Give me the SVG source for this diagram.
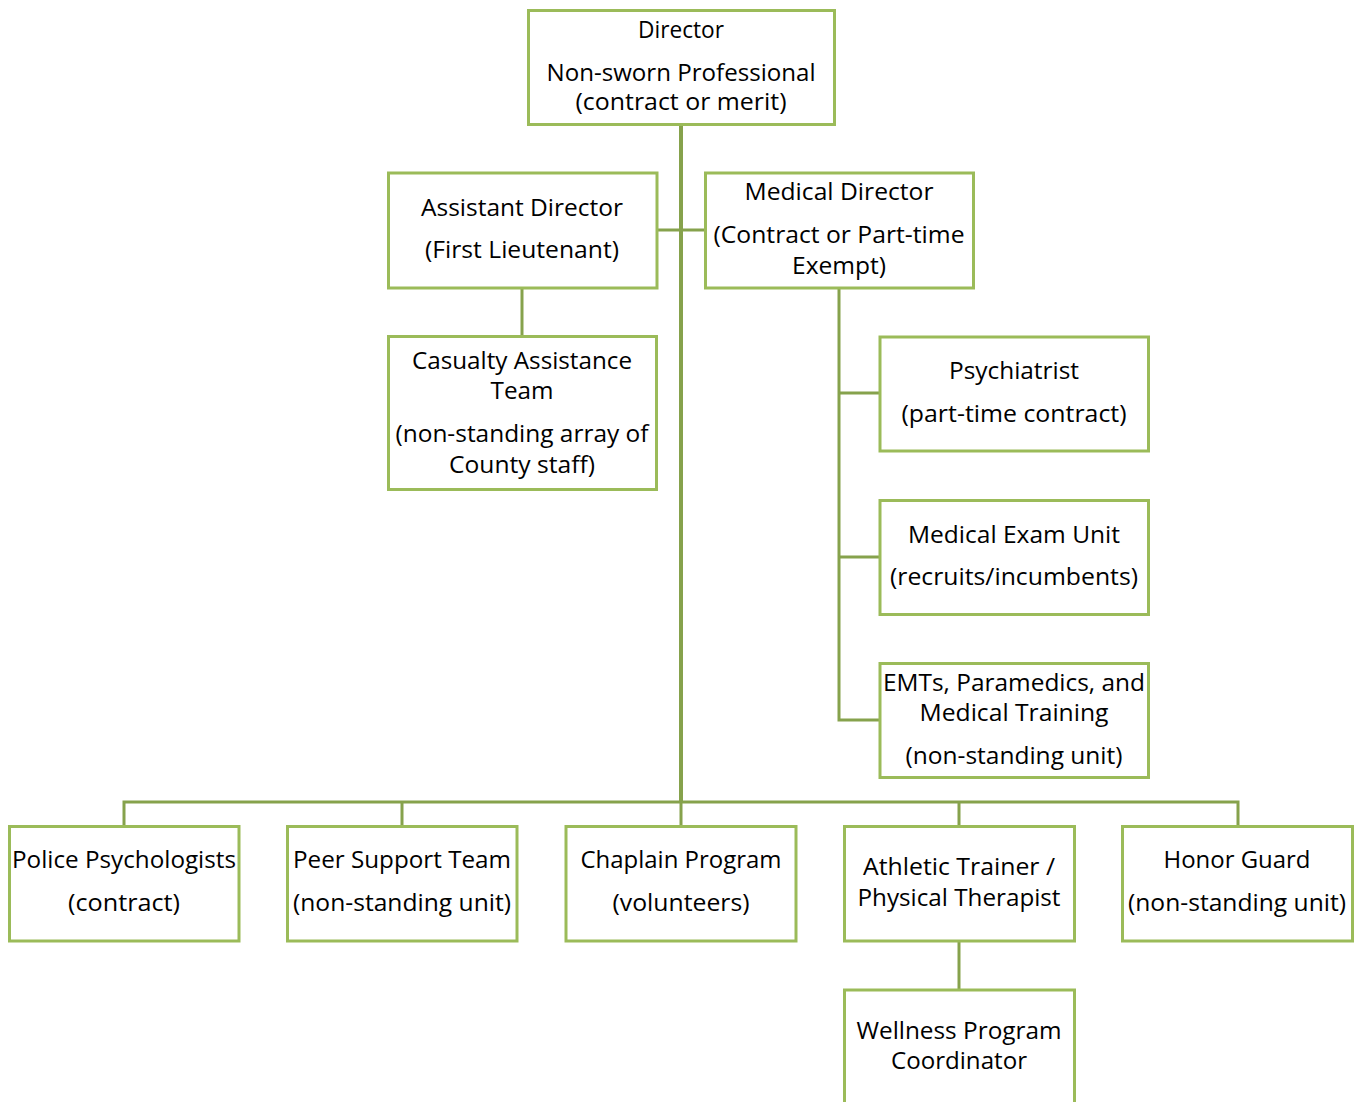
<svg xmlns="http://www.w3.org/2000/svg" width="1356" height="1102" viewBox="0 0 1356 1102">
  <style>
    .box { fill: #ffffff; stroke: #9bbb59; stroke-width: 3; }
    .link { fill: none; stroke: #86a24c; stroke-width: 3; }
    .trunk { fill: none; stroke: #86a24c; stroke-width: 4; }
    text { font-family: "Open Sans", "Liberation Sans", sans-serif; font-size: 23.5px; fill: #000000; text-anchor: middle; }
  </style>
  <rect x="0" y="0" width="1356" height="1102" fill="#ffffff"/>

  <!-- connectors -->
  <g id="connectors">
    <path class="trunk" d="M681,124 V802"/>
    <path class="link" d="M657,230 H705"/>
    <path class="link" d="M522,288 V336"/>
    <path class="link" d="M839,288 V720 H880 M839,393 H880 M839,557 H880"/>
    <path class="link" d="M124,826 V802 H1238 V826 M402,802 V826 M681,802 V826 M959,802 V826"/>
    <path class="link" d="M959,941 V990"/>
  </g>

  <g id="director">
    <rect class="box" x="528.5" y="10.5" width="306" height="114"/>
    <text x="681" y="38" textLength="86" lengthAdjust="spacingAndGlyphs">Director</text>
    <text x="681" y="81" textLength="269" lengthAdjust="spacingAndGlyphs">Non-sworn Professional</text>
    <text x="681" y="110" textLength="211" lengthAdjust="spacingAndGlyphs">(contract or merit)</text>
  </g>

  <g id="assistant-director">
    <rect class="box" x="388.5" y="173" width="268.5" height="115"/>
    <text x="522" y="216" textLength="202" lengthAdjust="spacingAndGlyphs">Assistant Director</text>
    <text x="522" y="258" textLength="194" lengthAdjust="spacingAndGlyphs">(First Lieutenant)</text>
  </g>

  <g id="medical-director">
    <rect class="box" x="705.5" y="173" width="268" height="115"/>
    <text x="839" y="200" textLength="189" lengthAdjust="spacingAndGlyphs">Medical Director</text>
    <text x="839" y="243" textLength="251" lengthAdjust="spacingAndGlyphs">(Contract or Part-time</text>
    <text x="839" y="274" textLength="94" lengthAdjust="spacingAndGlyphs">Exempt)</text>
  </g>

  <g id="casualty-assistance">
    <rect class="box" x="388.5" y="336.5" width="268" height="153"/>
    <text x="522" y="369" textLength="220" lengthAdjust="spacingAndGlyphs">Casualty Assistance</text>
    <text x="522" y="399" textLength="63" lengthAdjust="spacingAndGlyphs">Team</text>
    <text x="522" y="442" textLength="253" lengthAdjust="spacingAndGlyphs">(non-standing array of</text>
    <text x="522" y="473" textLength="146" lengthAdjust="spacingAndGlyphs">County staff)</text>
  </g>

  <g id="psychiatrist">
    <rect class="box" x="880" y="337" width="268.5" height="114"/>
    <text x="1014" y="379" textLength="130" lengthAdjust="spacingAndGlyphs">Psychiatrist</text>
    <text x="1014" y="422" textLength="225" lengthAdjust="spacingAndGlyphs">(part-time contract)</text>
  </g>

  <g id="medical-exam-unit">
    <rect class="box" x="880" y="500.5" width="268.5" height="114"/>
    <text x="1014" y="543" textLength="212" lengthAdjust="spacingAndGlyphs">Medical Exam Unit</text>
    <text x="1014" y="585" textLength="248" lengthAdjust="spacingAndGlyphs">(recruits/incumbents)</text>
  </g>

  <g id="emts">
    <rect class="box" x="880" y="663.5" width="268.5" height="114"/>
    <text x="1014" y="691" textLength="262" lengthAdjust="spacingAndGlyphs">EMTs, Paramedics, and</text>
    <text x="1014" y="721" textLength="189" lengthAdjust="spacingAndGlyphs">Medical Training</text>
    <text x="1014" y="764" textLength="217" lengthAdjust="spacingAndGlyphs">(non-standing unit)</text>
  </g>

  <g id="police-psychologists">
    <rect class="box" x="9.5" y="826.5" width="229.5" height="114.5"/>
    <text x="124" y="868" textLength="224" lengthAdjust="spacingAndGlyphs">Police Psychologists</text>
    <text x="124" y="911" textLength="112" lengthAdjust="spacingAndGlyphs">(contract)</text>
  </g>

  <g id="peer-support">
    <rect class="box" x="287.5" y="826.5" width="229.5" height="114.5"/>
    <text x="402" y="868" textLength="218" lengthAdjust="spacingAndGlyphs">Peer Support Team</text>
    <text x="402" y="911" textLength="218" lengthAdjust="spacingAndGlyphs">(non-standing unit)</text>
  </g>

  <g id="chaplain">
    <rect class="box" x="566" y="826.5" width="230" height="114.5"/>
    <text x="681" y="868" textLength="201" lengthAdjust="spacingAndGlyphs">Chaplain Program</text>
    <text x="681" y="911" textLength="137" lengthAdjust="spacingAndGlyphs">(volunteers)</text>
  </g>

  <g id="athletic-trainer">
    <rect class="box" x="844.5" y="826.5" width="230" height="114.5"/>
    <text x="959" y="875" textLength="192" lengthAdjust="spacingAndGlyphs">Athletic Trainer /</text>
    <text x="959" y="906" textLength="203" lengthAdjust="spacingAndGlyphs">Physical Therapist</text>
  </g>

  <g id="honor-guard">
    <rect class="box" x="1122.5" y="826.5" width="230" height="114.5"/>
    <text x="1237" y="868" textLength="147" lengthAdjust="spacingAndGlyphs">Honor Guard</text>
    <text x="1237" y="911" textLength="218" lengthAdjust="spacingAndGlyphs">(non-standing unit)</text>
  </g>

  <g id="wellness-coordinator">
    <rect class="box" x="844.5" y="990" width="230" height="130"/>
    <text x="959" y="1039" textLength="205" lengthAdjust="spacingAndGlyphs">Wellness Program</text>
    <text x="959" y="1069" textLength="136" lengthAdjust="spacingAndGlyphs">Coordinator</text>
  </g>
</svg>
